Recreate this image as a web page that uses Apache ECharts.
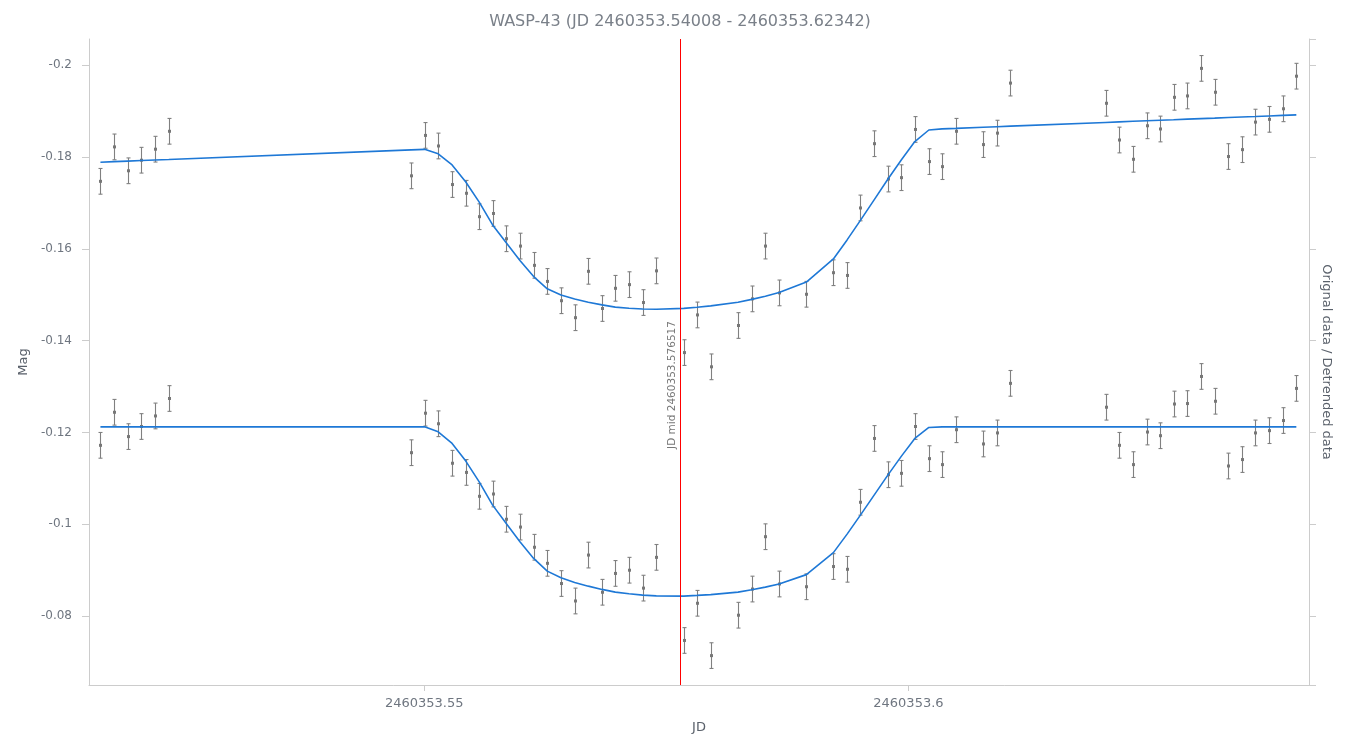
<!DOCTYPE html>
<html>
<head>
<meta charset="utf-8">
<script src="https://cdn.jsdelivr.net/npm/echarts@6/dist/echarts.min.js"></script>
<style>
html,body{margin:0;padding:0;background:#fff;}
#chart{width:1360px;height:755px;}
</style>
</head>
<body>
<div id="chart"></div>
<script>
const titleText = 'WASP-43 (JD 2460353.54008 - 2460353.62342)';
const transitMid = 2460353.576517;
const transitLabel = 'JD mid ' + transitMid;

const jd = [
2460353.516570, 2460353.517975, 2460353.519390, 2460353.520806, 2460353.522211, 2460353.523626,
2460353.548657, 2460353.550041, 2460353.551446, 2460353.552882, 2460353.554277, 2460353.555682, 2460353.557066, 2460353.558471, 2460353.559886, 2460353.561302, 2460353.562707, 2460353.564122, 2460353.565537, 2460353.566942, 2460353.568357, 2460353.569731, 2460353.571147, 2460353.572562, 2460353.573967,
2460353.576798, 2460353.578171, 2460353.579587,
2460353.582407, 2460353.583822, 2460353.585227, 2460353.586643,
2460353.589463,
2460353.592252, 2460353.593667, 2460353.595041, 2460353.596457, 2460353.597872, 2460353.599277, 2460353.600661, 2460353.602107, 2460353.603481, 2460353.604897,
2460353.607717, 2460353.609132, 2460353.610537,
2460353.620351, 2460353.621767, 2460353.623182, 2460353.624587, 2460353.626002, 2460353.627376, 2460353.628791, 2460353.630207, 2460353.631612, 2460353.633027, 2460353.634401, 2460353.635816, 2460353.637231, 2460353.638636, 2460353.640052
];

const originalMag = [
-0.1747, -0.1822, -0.1770, -0.1793, -0.1817, -0.1856,
-0.1759, -0.1847, -0.1824, -0.1740, -0.1721, -0.1670, -0.1677, -0.1622, -0.1606, -0.1564, -0.1529, -0.1487, -0.1450, -0.1551, -0.1470, -0.1514, -0.1522, -0.1483, -0.1552,
-0.1374, -0.1456, -0.1343,
-0.1433, -0.1491, -0.1606, -0.1504,
-0.1501,
-0.1548, -0.1542, -0.1689, -0.1829, -0.1752, -0.1755, -0.1860, -0.1790, -0.1779, -0.1856,
-0.1827, -0.1852, -0.1961,
-0.1917, -0.1837, -0.1795, -0.1868, -0.1861, -0.1930, -0.1933, -0.1993, -0.1941, -0.1801, -0.1816, -0.1876, -0.1882, -0.1905, -0.1976
];

const detrendedMag = [
-0.1172, -0.1244, -0.1191, -0.1213, -0.1236, -0.1274,
-0.1156, -0.1242, -0.1219, -0.1133, -0.1113, -0.1061, -0.1066, -0.1011, -0.0994, -0.0950, -0.0915, -0.0871, -0.0833, -0.0933, -0.0852, -0.0893, -0.0900, -0.0861, -0.0928,
-0.0747, -0.0828, -0.0714,
-0.0802, -0.0859, -0.0973, -0.0870,
-0.0864,
-0.0908, -0.0902, -0.1048, -0.1187, -0.1108, -0.1111, -0.1213, -0.1143, -0.1130, -0.1206,
-0.1175, -0.1199, -0.1307,
-0.1255, -0.1172, -0.1130, -0.1201, -0.1193, -0.1262, -0.1263, -0.1322, -0.1268, -0.1127, -0.1141, -0.1199, -0.1204, -0.1226, -0.1296
];

const magError = [
0.0028, 0.0028, 0.0028, 0.0028, 0.0028, 0.0028,
0.0028, 0.0028, 0.0028, 0.0028, 0.0028, 0.0028, 0.0028, 0.0028, 0.0028, 0.0028, 0.0028, 0.0028, 0.0028, 0.0028, 0.0028, 0.0028, 0.0028, 0.0028, 0.0028,
0.0028, 0.0028, 0.0028,
0.0028, 0.0028, 0.0028, 0.0028,
0.0028,
0.0028, 0.0028, 0.0028, 0.0028, 0.0028, 0.0028, 0.0028, 0.0028, 0.0028, 0.0028,
0.0028, 0.0028, 0.0028,
0.0028, 0.0028, 0.0028, 0.0028, 0.0028, 0.0028, 0.0028, 0.0028, 0.0028, 0.0028, 0.0028, 0.0028, 0.0028, 0.0028, 0.0028
];

const originalModel = [
-0.17887, -0.17899, -0.17911, -0.17923, -0.17935, -0.17946,
-0.18155, -0.18167, -0.18069, -0.17828, -0.17461, -0.17016, -0.16520, -0.16133, -0.15744, -0.15395, -0.15129, -0.14995, -0.14907, -0.14838, -0.14779, -0.14731, -0.14706, -0.14689, -0.14685,
-0.14703, -0.14729, -0.14758,
-0.14837, -0.14899, -0.14969, -0.15050,
-0.15277,
-0.15779, -0.16194, -0.16619, -0.17066, -0.17514, -0.17940, -0.18336, -0.18588, -0.18613, -0.18624,
-0.18648, -0.18660, -0.18672,
-0.18753, -0.18765, -0.18777, -0.18789, -0.18801, -0.18812, -0.18824, -0.18836, -0.18847, -0.18859, -0.18871, -0.18882, -0.18894, -0.18906, -0.18918
];

const detrendedModel = [
-0.12123, -0.12123, -0.12123, -0.12123, -0.12123, -0.12123,
-0.12123, -0.12123, -0.12014, -0.11761, -0.11382, -0.10925, -0.10418, -0.10019, -0.09618, -0.09257, -0.08980, -0.08834, -0.08734, -0.08653, -0.08582, -0.08523, -0.08486, -0.08457, -0.08442,
-0.08436, -0.08451, -0.08468,
-0.08523, -0.08573, -0.08632, -0.08701,
-0.08904,
-0.09383, -0.09786, -0.10200, -0.10635, -0.11071, -0.11485, -0.11870, -0.12110, -0.12123, -0.12123,
-0.12123, -0.12123, -0.12123,
-0.12123, -0.12123, -0.12123, -0.12123, -0.12123, -0.12123, -0.12123, -0.12123, -0.12123, -0.12123, -0.12123, -0.12123, -0.12123, -0.12123, -0.12123
];

const xRange = [2460353.51539, 2460353.64136];
const yRange = [-0.2057, -0.0650];

const FONT = 'DejaVu Sans';
const LABEL_COLOR = '#6f7680';
const NAME_COLOR = '#5a616b';
const AXIS_COLOR = '#cccccc';
const RED = '#ff0000';

function zip(xs, ys, es) {
  return xs.map((x, i) => es ? [x, ys[i], es[i]] : [x, ys[i]]);
}

function renderErrorBar(params, api) {
  const x = api.value(0), y = api.value(1), e = api.value(2);
  const c = api.coord([x, y]);
  const a = api.coord([x, y - e]);
  const b = api.coord([x, y + e]);
  const hw = 2;
  const cx = Math.round(c[0]) + 0.5;
  const st = { stroke: '#808080', lineWidth: 1.1 };
  return {
    type: 'group',
    children: [
      { type: 'line', shape: { x1: cx, y1: a[1], x2: cx, y2: b[1] }, style: st },
      { type: 'line', shape: { x1: cx - hw, y1: a[1], x2: cx + hw, y2: a[1] }, style: st },
      { type: 'line', shape: { x1: cx - hw, y1: b[1], x2: cx + hw, y2: b[1] }, style: st },
      { type: 'rect', shape: { x: cx - 1.5, y: c[1] - 1.5, width: 3, height: 3 }, style: { fill: '#777777' } }
    ]
  };
}

function renderTransitLine(params, api) {
  const x = api.value(0);
  const top = api.coord([x, yRange[0]]);
  const bottom = api.coord([x, yRange[1]]);
  const lx = Math.round(top[0]) - 0.5;
  const midY = (top[1] + bottom[1]) / 2 + 23;
  return {
    type: 'group',
    children: [
      { type: 'line', shape: { x1: lx, y1: top[1], x2: lx, y2: bottom[1] }, style: { stroke: RED, lineWidth: 1 } },
      {
        type: 'text',
        x: lx - 3,
        y: midY,
        rotation: Math.PI / 2,
        style: {
          text: transitLabel,
          fill: '#777777',
          font: '10.5px "DejaVu Sans"',
          align: 'center',
          verticalAlign: 'bottom'
        }
      }
    ]
  };
}

const chart = echarts.init(document.getElementById('chart'), null, { renderer: 'canvas' });

const yAxisCommon = {
  type: 'value',
  inverse: true,
  min: yRange[0],
  max: yRange[1],
  splitNumber: 7,
  splitLine: { show: false },
  axisLine: { show: true, lineStyle: { color: AXIS_COLOR } },
  axisTick: { show: true, length: 7, lineStyle: { color: AXIS_COLOR } },
  nameLocation: 'middle',
  nameTextStyle: { color: NAME_COLOR, fontSize: 13, fontFamily: FONT }
};

chart.setOption({
  animation: false,
  textStyle: { fontFamily: FONT },
  title: {
    text: titleText,
    left: 'center',
    top: 9,
    textStyle: { color: '#7a8089', fontSize: 16, fontWeight: 'normal', fontFamily: FONT }
  },
  grid: { left: 89, right: 51, top: 39, bottom: 70, containLabel: false },
  xAxis: {
    type: 'value',
    min: xRange[0],
    max: xRange[1],
    splitNumber: 3,
    name: 'JD',
    nameLocation: 'middle',
    nameGap: 36,
    nameTextStyle: { color: NAME_COLOR, fontSize: 13, fontFamily: FONT },
    splitLine: { show: false },
    axisLine: { show: true, lineStyle: { color: AXIS_COLOR } },
    axisTick: { show: true, length: 6, lineStyle: { color: AXIS_COLOR } },
    axisLabel: {
      color: LABEL_COLOR, fontSize: 13, margin: 12, showMinLabel: false, showMaxLabel: false, fontFamily: FONT,
      formatter: v => String(Number(v.toFixed(6)))
    }
  },
  yAxis: [
    Object.assign({}, yAxisCommon, {
      position: 'left',
      name: 'Mag',
      nameGap: 56,
      nameRotate: 90,
      axisLabel: { color: LABEL_COLOR, fontSize: 12, margin: 17, showMinLabel: false, showMaxLabel: false, fontFamily: FONT }
    }),
    Object.assign({}, yAxisCommon, {
      position: 'right',
      name: 'Orignal data / Detrended data',
      nameGap: 11,
      nameRotate: -90,
      axisLabel: { show: false }
    })
  ],
  series: [
    {
      name: 'Original error',
      type: 'custom',
      renderItem: renderErrorBar,
      encode: { x: 0, y: 1 },
      data: zip(jd, originalMag, magError),
      z: 2,
      silent: true
    },
    {
      name: 'Detrended error',
      type: 'custom',
      renderItem: renderErrorBar,
      encode: { x: 0, y: 1 },
      data: zip(jd, detrendedMag, magError),
      z: 2,
      silent: true
    },
    {
      name: 'Original model',
      type: 'line',
      data: zip(jd, originalModel),
      showSymbol: false,
      symbol: 'none',
      color: '#1e78d6',
      lineStyle: { color: '#1e78d6', width: 1.6 },
      z: 3
    },
    {
      name: 'Detrended model',
      type: 'line',
      data: zip(jd, detrendedModel),
      showSymbol: false,
      symbol: 'none',
      color: '#1e78d6',
      lineStyle: { color: '#1e78d6', width: 1.6 },
      z: 3
    },
    {
      name: 'Transit mid',
      type: 'custom',
      renderItem: renderTransitLine,
      encode: { x: 0, y: 1 },
      data: [[transitMid, yRange[0]]],
      clip: false,
      z: 4,
      silent: true
    }
  ]
});
</script>
</body>
</html>
